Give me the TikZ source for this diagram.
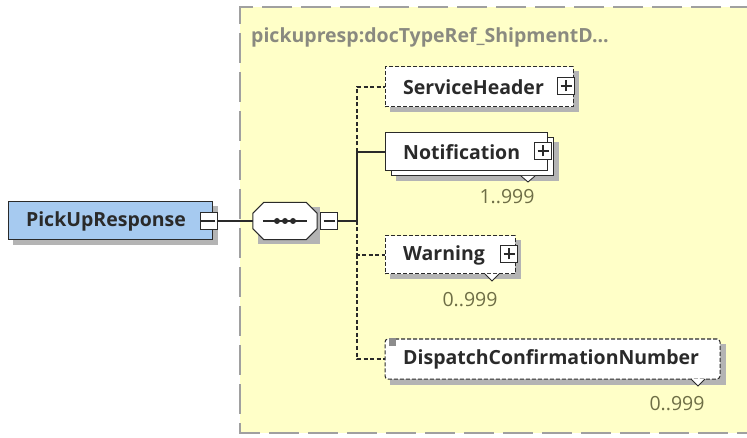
\documentclass[tikz,border=0pt]{standalone}
\usepackage{fontspec}
\setmainfont{Open Sans}
\usetikzlibrary{backgrounds}
\definecolor{paneyellow}{HTML}{FFFFC8}
\definecolor{paneborder}{HTML}{A0A0A0}
\definecolor{titlegray}{HTML}{8A8A80}
\definecolor{elemblue}{HTML}{A6CAF0}
\definecolor{multcol}{HTML}{6E6E46}
\definecolor{shadowcol}{HTML}{B4B4B4}
\definecolor{inkcol}{HTML}{2A2A2A}
\tikzset{
  lbl/.style={font=\fontsize{19.5}{22}\selectfont\bfseries, inner sep=0pt, anchor=west, text=inkcol},
  elem/.style={draw=inkcol, fill=white, line width=1pt, minimum height=38pt, inner sep=0pt},
  optelem/.style={elem, dash pattern=on 4pt off 2pt},
  pm/.style={draw=inkcol, fill=white, line width=1.1pt, minimum size=17pt, inner sep=0pt},
  pmplus/.style={pm, path picture={\draw[line width=1.1pt,inkcol] ([xshift=3pt]path picture bounding box.west) -- ([xshift=-3pt]path picture bounding box.east) ([yshift=3pt]path picture bounding box.south) -- ([yshift=-3pt]path picture bounding box.north);}},
  pmminus/.style={pm, path picture={\draw[line width=1.1pt,inkcol] ([xshift=3pt]path picture bounding box.west) -- ([xshift=-3pt]path picture bounding box.east);}},
  multlbl/.style={font=\fontsize{19.5}{22}\selectfont, text=multcol, inner sep=0pt},
  conn/.style={line width=1.1pt, draw=inkcol},
  optconn/.style={conn, dash pattern=on 4pt off 2.5pt},
  chev/.style={draw=inkcol, fill=white, line width=0.9pt},
}
\begin{document}
\begin{tikzpicture}[x=1pt,y=-1pt]
\useasboundingbox (0,0) rectangle (747,438);

% root element
\node[elem, fill=elemblue, minimum width=204pt] (root) at (110,221) {};
\node[lbl, anchor=center] (roottxt) at (106,221) {PickUpResponse};
\node[pmminus] (rootpm) at (209,221) {};

% sequence compositor
\node[minimum width=64pt, minimum height=37pt, inner sep=0pt] (seq) at (285,221) {};
\draw[fill=white, line width=1pt, draw=inkcol]
  ([xshift=11pt]seq.north west) -- ([xshift=-11pt]seq.north east) -- ([yshift=-11pt]seq.north east)
  -- ([yshift=11pt]seq.south east) -- ([xshift=-11pt]seq.south east) -- ([xshift=11pt]seq.south west)
  -- ([yshift=11pt]seq.south west) -- ([yshift=-11pt]seq.north west) -- cycle;
\draw[line width=1.6pt, inkcol] ([xshift=10pt]seq.west) -- ([xshift=-10pt]seq.east);
\foreach \dx in {-8,0,8} \fill[inkcol] ([xshift=\dx pt]seq.center) circle (3pt);
\node[pmminus] (seqpm) at (329,221) {};

% bus coordinates
\coordinate (bmid) at (357,221);
\coordinate (b1) at (357,87);
\coordinate (b2) at (357,152);
\coordinate (b3) at (357,255);
\coordinate (b4) at (357,359);

% title
\node[font=\fontsize{19.5}{22}\selectfont\bfseries, text=titlegray, anchor=west, inner sep=0pt] (title) at (251,37) {pickupresp:docTypeRef\_ShipmentD...};

% ServiceHeader
\node[optelem, minimum width=188pt, minimum height=40pt] (sh) at (479,87) {};
\node[lbl] (shtxt) at (403,87) {ServiceHeader};
\node[pmplus] (shpm) at (566,86) {};

% Notification (stacked)
\node[elem, minimum width=162pt] (ntback) at (472,157) {};
\node[elem, minimum width=162pt] (nt) at (466,152) {};
\node[lbl] (nttxt) at (403,152) {Notification};
\node[pmplus] (ntpm) at (543,151) {};
\draw[chev] (521,176) -- (528,182) -- (535,176);
\node[multlbl] (ntmult) at (507,197) {1..999};

% Warning
\node[optelem, minimum width=130pt] (wn) at (450,255) {};
\node[lbl] (wntxt) at (403,255) {Warning};
\node[pmplus] (wnpm) at (509,254) {};
\draw[chev] (485,274) -- (492,281) -- (499,274);
\node[multlbl] (wnmult) at (470,300) {0..999};

% DispatchConfirmationNumber
\node[optelem, minimum width=335pt, minimum height=40pt, rounded corners=3pt] (dc) at (552.5,359) {};
\node[lbl] (dctxt) at (403,359) {DispatchConfirmationNumber};
\node[fill=black!45, minimum size=7pt, inner sep=0pt] (dcicon) at (392,342) {};
\draw[chev] (691,379) -- (698,386) -- (705,379);
\node[multlbl] (dcmult) at (677,404) {0..999};

% connectors
\draw[conn] (root.east) -- (rootpm.west);
\draw[conn] (rootpm.east) -- (seq.west);
\draw[conn] (seqpm.east) -- (bmid);
\draw[conn] (b2) -- (bmid);
\draw[optconn] (b2) -- (b1) -- (sh.west);
\draw[conn] (b2) -- (nt.west);
\draw[optconn] (bmid) -- (b3) -- (wn.west);
\draw[optconn] (b3) -- (b4) -- (dc.west);

\begin{scope}[on background layer]
  \fill[paneyellow] (240,7) rectangle (760,433);
  \draw[paneborder, line width=1.5pt, dash pattern=on 30pt off 9pt] (760,7) -- (240,7) -- (240,433) -- (760,433);
  \fill[shadowcol] ([xshift=5pt,yshift=-5pt]root.north west) rectangle ([xshift=5pt,yshift=-5pt]root.south east);
  \fill[shadowcol] ([xshift=5pt,yshift=-5pt]seq.north west) rectangle ([xshift=3pt,yshift=-4pt]seq.south east);
  \fill[shadowcol] ([xshift=5pt,yshift=-5pt]sh.north west) rectangle ([xshift=5pt,yshift=-5pt]sh.south east);
  \fill[shadowcol] ([xshift=5pt,yshift=-5pt]ntback.north west) rectangle ([xshift=5pt,yshift=-5pt]ntback.south east);
  \fill[shadowcol] ([xshift=5pt,yshift=-5pt]wn.north west) rectangle ([xshift=5pt,yshift=-5pt]wn.south east);
  \fill[shadowcol] ([xshift=5pt,yshift=-5pt]dc.north west) rectangle ([xshift=5pt,yshift=-5pt]dc.south east);
\end{scope}
\end{tikzpicture}
\end{document}
